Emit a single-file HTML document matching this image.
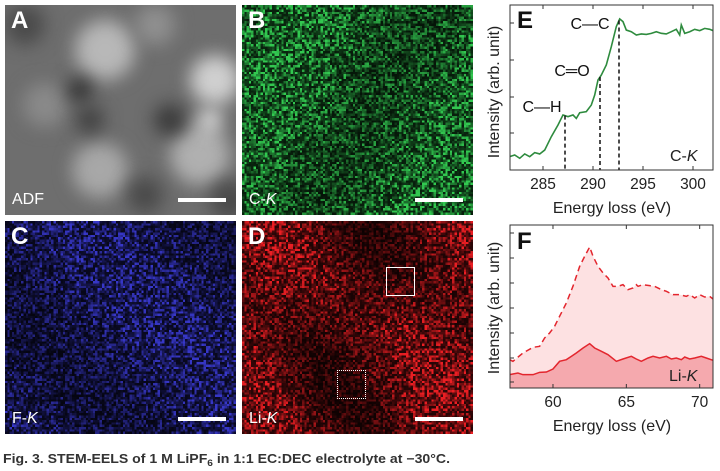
<!DOCTYPE html>
<html><head><meta charset="utf-8"><style>
html,body{margin:0;padding:0;background:#fff;width:720px;height:471px;overflow:hidden;font-family:"Liberation Sans",sans-serif}
.panel{position:absolute;overflow:hidden}
.panel canvas{width:100%;height:100%;image-rendering:pixelated;display:block}
.plabel{position:absolute;left:6px;top:2px;color:#fff;font-weight:bold;font-size:24px}
.mlabel{position:absolute;left:7px;bottom:6px;color:#fff;font-size:16px}
.sbar{position:absolute;height:4px;width:48px;background:#fff;bottom:13px;right:10px}
</style></head><body>
<div class="panel" style="left:5px;top:5px;width:231px;height:210px"><canvas id="cA" width="231" height="210" style="image-rendering:auto"></canvas><div class="plabel">A</div><div class="mlabel">ADF</div><div class="sbar"></div></div>
<div class="panel" style="left:242px;top:5px;width:231px;height:210px"><canvas id="cB" width="100" height="91"></canvas><div class="plabel">B</div><div class="mlabel">C-<i>K</i></div><div class="sbar"></div></div>
<div class="panel" style="left:5px;top:221px;width:231px;height:213px"><canvas id="cC" width="100" height="92"></canvas><div class="plabel">C</div><div class="mlabel">F-<i>K</i></div><div class="sbar"></div></div>
<div class="panel" style="left:242px;top:221px;width:231px;height:213px"><canvas id="cD" width="100" height="92"></canvas><div class="plabel">D</div><div class="mlabel">Li-<i>K</i></div><div class="sbar"></div>
<div style="position:absolute;left:144px;top:46px;width:27px;height:27px;border:1.5px solid #fff"></div>
<div style="position:absolute;left:95px;top:149px;width:27px;height:27px;border:1.5px dotted #fff"></div>
</div>
<svg id="chartE" style="position:absolute;left:0;top:0" width="720" height="471"></svg>
<script>
// ---- Chart E data ----
const eX=[281.67,282.17,282.67,283.17,283.67,284.17,284.67,285.17,285.83,286.5,287,287.5,288,288.33,288.67,289.33,289.83,290.17,290.5,290.83,291.33,291.83,292.33,292.67,293,293.33,293.83,294.33,294.83,295.33,295.83,296.33,296.83,297.33,297.83,298.33,298.67,298.83,299.17,299.67,300.17,300.67,301.17,301.67,302];
const eY=[8.9,10,7.8,10.7,8.9,11.6,10.7,13.3,22.2,30,36.7,35.6,36.7,34.4,38.2,38.9,43.3,50,60,63.3,70,82.2,95.6,100.7,98.9,93.3,92.2,90,90.7,90.4,91.1,92.2,91.1,90.7,92.2,93.8,90,96.7,91.1,92.2,93.8,92.9,94.4,93.8,92.9];
const eTicks=[285,290,295,300];
const ePeaks=[287.2,290.7,292.6];
const ePeakLabels=["C—H","C═O","C—C"];
// ---- Chart F data ----
const fDashX=[57.05,57.27,57.95,58.64,59.09,59.43,59.77,60.11,60.45,60.91,61.36,61.82,62.16,62.5,62.73,63.07,63.41,63.75,64.09,64.43,64.77,65.11,65.45,65.68,65.8,66.14,66.59,66.93,67.39,67.73,68.18,68.64,69.09,69.32,69.66,70,70.34,70.68,70.91];
const fDashY=[21.25,20,26.25,30.5,31.25,37.5,41.25,46.25,53.75,63.75,76.25,91.25,98.75,105.75,98.75,91.25,86.25,82.5,76.25,76.25,77.5,73.75,75,77.5,76.25,77.5,76.75,76.25,73.75,72.5,70,70,68.75,70,67.5,70,68.25,68.75,66.75];
const fSolidX=[57.05,57.61,57.95,58.64,59.09,59.55,60,60.45,60.91,61.25,61.59,62.05,62.5,62.84,63.3,63.75,64.32,64.77,65.34,65.68,66.02,66.48,66.82,67.27,67.73,68.07,68.41,68.75,68.98,69.32,69.66,70.11,70.45,70.91];
const fSolidY=[10,11.25,10,10,11.75,12,14.25,20,21.25,23.75,26.25,30,33.25,30,27.5,25,20,21.75,23.75,21.75,20,22.5,23.75,22.5,23.75,21.75,22.5,21.25,23.25,21.75,22.5,23.75,22.5,20.75];
const fTicks=[60,65,70];

const svg=document.getElementById('chartE');
const NS='http://www.w3.org/2000/svg';
function mk(tag,attrs,parent,text){const e=document.createElementNS(NS,tag);for(const k in attrs)e.setAttribute(k,attrs[k]);if(text!==undefined)e.textContent=text;(parent||svg).appendChild(e);return e;}
const exS=v=>510+(v-281.7)*10, eyS=v=>170-v*1.5;
const fxS=v=>510+(v-57.07)*14.67, fyS=v=>388-v*4/3;
function frame(x0,y0,x1,y1,name){const r=mk('rect',{x:x0,y:y0,width:x1-x0,height:y1-y0,fill:'none',stroke:'#333','stroke-width':1});}
let p='M'+fxS(fDashX[0])+','+fyS(0);fDashX.forEach((x,i)=>p+='L'+fxS(x)+','+fyS(fDashY[i]));p+='L'+fxS(fDashX[fDashX.length-1])+','+fyS(0)+'Z';
let a=mk('path',{d:p,fill:'#fde1e2'});
p='M'+fxS(fSolidX[0])+','+fyS(0);fSolidX.forEach((x,i)=>p+='L'+fxS(x)+','+fyS(fSolidY[i]));p+='L'+fxS(fSolidX[fSolidX.length-1])+','+fyS(0)+'Z';
a=mk('path',{d:p,fill:'#f5a9ae'});
let l=mk('polyline',{points:fDashX.map((x,i)=>fxS(x)+','+fyS(fDashY[i])).join(' '),fill:'none',stroke:'#e3262e','stroke-width':1.5,'stroke-dasharray':'6,4'});
l=mk('polyline',{points:fSolidX.map((x,i)=>fxS(x)+','+fyS(fSolidY[i])).join(' '),fill:'none',stroke:'#e3262e','stroke-width':1.5});
l=mk('polyline',{points:eX.map((x,i)=>exS(x)+','+eyS(eY[i])).join(' '),fill:'none',stroke:'#2e8b3e','stroke-width':1.6});
function interp(xs,ys,x){for(let i=1;i<xs.length;i++)if(xs[i]>=x){const t=(x-xs[i-1])/(xs[i]-xs[i-1]);return ys[i-1]+t*(ys[i]-ys[i-1]);}return ys[ys.length-1];}
ePeaks.forEach((pk,i)=>{const d=mk('line',{x1:exS(pk),x2:exS(pk),y1:eyS(interp(eX,eY,pk)),y2:170,stroke:'#111','stroke-width':1.5,'stroke-dasharray':'4,3'});});
const lblPos=[[542,112],[572,76],[590,29]];
ePeakLabels.forEach((t,i)=>{const e=mk('text',{x:lblPos[i][0],y:lblPos[i][1],'text-anchor':'middle','font-size':16,fill:'#111'},svg,t);});
frame(510,5,713,170,'plot-frame-e');frame(510,225,713,388,'plot-frame-f');
[23,60,97,133].forEach(y=>{mk('line',{x1:510,x2:514,y1:y,y2:y,stroke:'#333'});});
[233,258,283,308,333,358,382].forEach(y=>{mk('line',{x1:510,x2:514,y1:y,y2:y,stroke:'#333'});});
eTicks.forEach(t=>{const x=exS(t);mk('line',{x1:x,x2:x,y1:170,y2:166,stroke:'#333'});mk('line',{x1:x,x2:x,y1:5,y2:9,stroke:'#333'});const e=mk('text',{x:x,y:189,'text-anchor':'middle','font-size':15.5,fill:'#222'},svg,t);});
fTicks.forEach(t=>{const x=fxS(t);mk('line',{x1:x,x2:x,y1:388,y2:384,stroke:'#333'});mk('line',{x1:x,x2:x,y1:225,y2:229,stroke:'#333'});const e=mk('text',{x:x,y:407,'text-anchor':'middle','font-size':15.5,fill:'#222'},svg,t);});
let t=mk('text',{x:612,y:213,'text-anchor':'middle','font-size':16,fill:'#222'},svg,'Energy loss (eV)');
t=mk('text',{x:612,y:431,'text-anchor':'middle','font-size':16,fill:'#222'},svg,'Energy loss (eV)');
t=mk('text',{x:0,y:0,'text-anchor':'middle','font-size':16,fill:'#222',transform:'translate(499,92) rotate(-90)'},svg,'Intensity (arb. unit)');
t=mk('text',{x:0,y:0,'text-anchor':'middle','font-size':16,fill:'#222',transform:'translate(499,308) rotate(-90)'},svg,'Intensity (arb. unit)');
t=mk('text',{x:517,y:28,'font-size':24,'font-weight':'bold',fill:'#111'},svg,'E');
t=mk('text',{x:517,y:249,'font-size':24,'font-weight':'bold',fill:'#111'},svg,'F');
t=mk('text',{x:670,y:161,'font-size':16,fill:'#222'},svg);t.innerHTML='C-<tspan font-style="italic">K</tspan>';
t=mk('text',{x:669,y:381,'font-size':16,fill:'#222'},svg);t.innerHTML='Li-<tspan font-style="italic">K</tspan>';
t=mk('text',{x:3,y:463,'font-size':12.5,'font-weight':'bold',fill:'#333',textLength:447,lengthAdjust:'spacingAndGlyphs'},svg);
t.innerHTML='Fig. 3. STEM-EELS of 1 M LiPF<tspan font-size="9" dy="3">6</tspan><tspan dy="-3"> in 1:1 EC:DEC electrolyte at −30°C.</tspan>';


// ---- image panels (texture, not data) ----
let seed=7;function rnd(){seed=(seed*16807)%2147483647;return seed/2147483647;}
function noise(id,col,bias){const c=document.getElementById(id),g=c.getContext('2d'),W=c.width,H=c.height;const im=g.createImageData(W,H);
for(let y=0;y<H;y++)for(let x=0;x<W;x++){let r=rnd();let v=(0.15+r*r*1.1)*bias(x/W,y/H);v=Math.min(1,v);const i=(y*W+x)*4;im.data[i]=col[0]*v;im.data[i+1]=col[1]*v;im.data[i+2]=col[2]*v;im.data[i+3]=255;}g.putImageData(im,0,0);}
noise('cB',[50,200,80],(x,y)=>0.85+0.2*Math.sin(x*6+y*3));
noise('cC',[55,55,200],(x,y)=>0.75+0.2*Math.sin(x*5-y*4));
noise('cD',[235,30,35],(x,y)=>0.7+0.4*Math.sin(x*7-y*3+1)*Math.cos(y*4));
(function(){const g=document.getElementById('cA').getContext('2d');g.fillStyle='#6e6e6e';g.fillRect(0,0,231,210);g.filter='blur(9px)';
const blobs=[[100,45,30,'#b8b8b8'],[210,75,25,'#d0d0d0'],[95,165,28,'#a8a8a8'],[195,150,30,'#b0b0b0'],[40,100,22,'#8a8a8a'],[150,20,20,'#909090'],[75,85,12,'#2e2e2e'],[85,115,14,'#404040'],[165,115,16,'#3a3a3a'],[140,190,18,'#4a4a4a'],[20,20,20,'#4a4a4a'],[225,195,20,'#4a4a4a'],[205,115,12,'#e0e0e0']];
blobs.forEach(b=>{g.fillStyle=b[3];g.beginPath();g.arc(b[0],b[1],b[2],0,7);g.fill();});})();
</script>
</body></html>
